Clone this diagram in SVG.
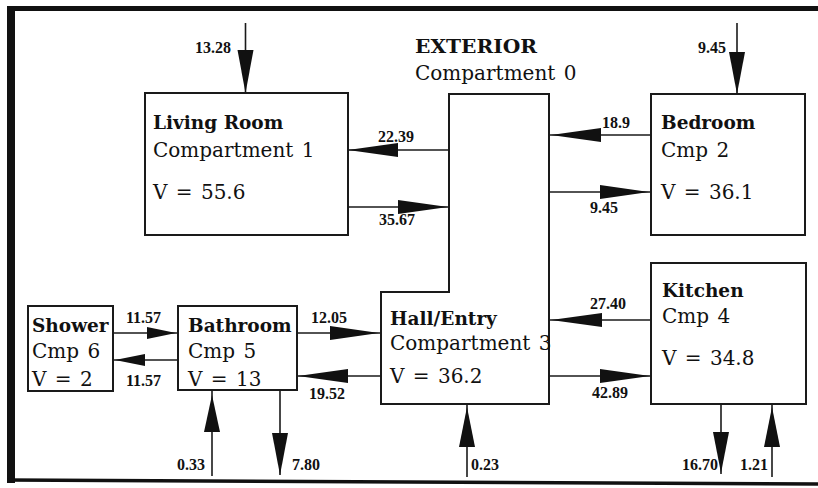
<svg xmlns="http://www.w3.org/2000/svg" width="818" height="488" viewBox="0 0 818 488">
<style>
.box{fill:none;stroke:#1a1a1a;stroke-width:2}
.t{font-family:"DejaVu Serif","Liberation Serif",serif;font-size:20px;fill:#111;word-spacing:2px}
.b{font-family:"DejaVu Serif","Liberation Serif",serif;font-size:18.5px;font-weight:bold;fill:#111}
.n{font-family:"Liberation Serif",serif;font-size:16px;font-weight:bold;fill:#111}
.ln{stroke:#1a1a1a;stroke-width:1.6;fill:none}
.hd{fill:#111;stroke:none}
</style>
<rect width="818" height="488" fill="#fff"/>
<g id="frame">
<rect x="7" y="6" width="8" height="477" fill="#111"/>
<rect x="7" y="6" width="811" height="5" fill="#111"/>
<path d="M7,480 L818,484" stroke="#111" stroke-width="3.5"/>
</g>
<g id="exterior">
<text class="b" x="415" y="53" textLength="122" lengthAdjust="spacingAndGlyphs">EXTERIOR</text>
<text class="t" x="415" y="80">Compartment 0</text>
</g>
<g id="living">
<rect class="box" x="145" y="93" width="203" height="142"/>
<text class="b" x="153" y="129">Living Room</text>
<text class="t" x="153" y="157">Compartment 1</text>
<text class="t" x="153" y="199">V = 55.6</text>
</g>
<g id="bedroom">
<rect class="box" x="651" y="94" width="154" height="141"/>
<text class="b" x="661" y="129">Bedroom</text>
<text class="t" x="661" y="157">Cmp 2</text>
<text class="t" x="661" y="199">V = 36.1</text>
</g>
<g id="hall">
<path class="box" d="M449,94 H549 V404 H381 V292 H449 Z"/>
<text class="b" x="390" y="325">Hall/Entry</text>
<text class="t" x="390" y="350">Compartment 3</text>
<text class="t" x="390" y="383">V = 36.2</text>
</g>
<g id="kitchen">
<rect class="box" x="651" y="263" width="155" height="141"/>
<text class="b" x="662" y="297">Kitchen</text>
<text class="t" x="662" y="323">Cmp 4</text>
<text class="t" x="662" y="365">V = 34.8</text>
</g>
<g id="shower">
<rect class="box" x="28" y="306" width="85" height="85"/>
<text class="b" x="32" y="332">Shower</text>
<text class="t" x="32" y="358">Cmp 6</text>
<text class="t" x="32" y="386">V = 2</text>
</g>
<g id="bathroom">
<rect class="box" x="178" y="306" width="119" height="84"/>
<text class="b" x="188" y="332">Bathroom</text>
<text class="t" x="188" y="358">Cmp 5</text>
<text class="t" x="188" y="386">V = 13</text>
</g>
<g id="connectors">
<path class="ln" d="M245.5,23 V93"/><path class="hd" d="M245.5,93 L237.5,50 L253.5,50 Z"/>
<path class="ln" d="M737,23 V94"/><path class="hd" d="M737,94 L729,52 L745,52 Z"/>
<path class="ln" d="M449,150 H348"/><path class="hd" d="M348,150 L398,143 L398,157 Z"/>
<path class="ln" d="M348,207 H449"/><path class="hd" d="M448,207 L398,200 L398,214 Z"/>
<path class="ln" d="M651,135 H549"/><path class="hd" d="M551,135 L601,128 L601,142 Z"/>
<path class="ln" d="M549,192 H651"/><path class="hd" d="M649,192 L600,185 L600,199 Z"/>
<path class="ln" d="M651,320 H549"/><path class="hd" d="M551,320 L602,313 L602,327 Z"/>
<path class="ln" d="M549,376 H651"/><path class="hd" d="M650,376 L600,369 L600,383 Z"/>
<path class="ln" d="M297,333 H381"/><path class="hd" d="M379,333 L330,326 L330,340 Z"/>
<path class="ln" d="M381,376 H297"/><path class="hd" d="M298,376 L348,369 L348,383 Z"/>
<path class="ln" d="M113,333 H178"/><path class="hd" d="M176,333 L147,327 L147,339 Z"/>
<path class="ln" d="M178,360 H113"/><path class="hd" d="M115,360 L145,354 L145,366 Z"/>
<path class="ln" d="M212,476 V390"/><path class="hd" d="M212,395 L204,432 L220,432 Z"/>
<path class="ln" d="M280,390 V475"/><path class="hd" d="M280,475 L272,433 L288,433 Z"/>
<path class="ln" d="M467,477 V404"/><path class="hd" d="M467,407 L459,447 L475,447 Z"/>
<path class="ln" d="M721,404 V474"/><path class="hd" d="M721,473 L713,432 L729,432 Z"/>
<path class="ln" d="M772,477 V404"/><path class="hd" d="M772,407 L764,447 L780,447 Z"/>
<text class="n" x="195" y="53">13.28</text>
<text class="n" x="698" y="53">9.45</text>
<text class="n" x="378" y="142">22.39</text>
<text class="n" x="379" y="225">35.67</text>
<text class="n" x="602" y="128">18.9</text>
<text class="n" x="590" y="213">9.45</text>
<text class="n" x="590" y="309">27.40</text>
<text class="n" x="592" y="398">42.89</text>
<text class="n" x="311" y="323">12.05</text>
<text class="n" x="309" y="399">19.52</text>
<text class="n" x="126" y="323">11.57</text>
<text class="n" x="126" y="386">11.57</text>
<text class="n" x="177" y="470">0.33</text>
<text class="n" x="292" y="470">7.80</text>
<text class="n" x="471" y="470">0.23</text>
<text class="n" x="682" y="470">16.70</text>
<text class="n" x="740" y="470">1.21</text>
</g>
</svg>
